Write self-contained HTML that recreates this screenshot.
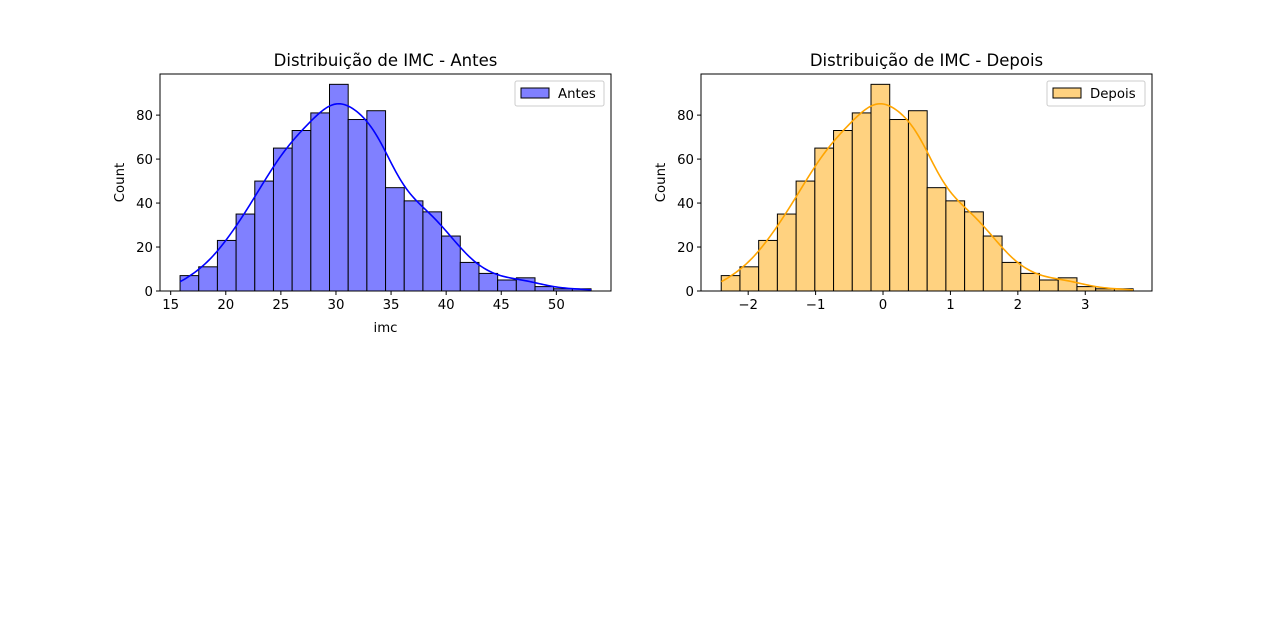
<!DOCTYPE html>
<html><head><meta charset="utf-8"><style>
body{margin:0;background:#fff;}
svg{display:block;font-family:"DejaVu Sans","Liberation Sans",sans-serif;}
</style></head><body>
<svg id="fig" width="1280" height="620" viewBox="0 0 1280 620"></svg>
<script>
const counts = [7,11,23,35,50,65,73,81,94,78,82,47,41,36,25,13,8,5,6,2,1,1];
const antesRange = [15.85, 53.15];
const depoisRange = [-2.40, 3.71];
const antesTicks = [15,20,25,30,35,40,45,50];
const depoisTicks = [-2,-1,0,1,2,3];
const yTicks = [0,20,40,60,80];

const NS='http://www.w3.org/2000/svg';
const svg=document.getElementById('fig');
function el(tag,attrs,parent){const e=document.createElementNS(NS,tag);for(const k in attrs)e.setAttribute(k,attrs[k]);(parent||svg).appendChild(e);return e;}

function panel(cfg){
  const g=el('g',{});
  
  
  const L=cfg.left,R=cfg.left+451,T=74,B=291;
  const yMax=98.7;
  const sx=v=>L+(v-cfg.xlim[0])/(cfg.xlim[1]-cfg.xlim[0])*(R-L);
  const sy=v=>B-v/yMax*(B-T);
  const n=counts.length, w=(cfg.range[1]-cfg.range[0])/n;
  counts.forEach((c,i)=>{
    const x0=sx(cfg.range[0]+i*w),x1=sx(cfg.range[0]+(i+1)*w);
    const r=el('rect',{x:x0,y:sy(c),width:x1-x0,height:B-sy(c),fill:cfg.fill,stroke:'#000','stroke-width':1},g);
    
    
  });
  const centers=counts.map((c,i)=>cfg.range[0]+(i+0.5)*w);
  const N=counts.reduce((a,b)=>a+b,0);
  let mean=0;centers.forEach((x,i)=>mean+=x*counts[i]);mean/=N;
  let v=0;centers.forEach((x,i)=>v+=counts[i]*(x-mean)**2);v/=N;
  const bw=Math.sqrt(v)*Math.pow(N,-0.2);
  let d='';
  for(let k=0;k<=200;k++){
    const x=cfg.range[0]+k/200*(cfg.range[1]-cfg.range[0]);
    let s=0;centers.forEach((c,i)=>s+=counts[i]*Math.exp(-0.5*((x-c)/bw)**2));
    const y=s/(bw*Math.sqrt(2*Math.PI))*w;
    d+=(k?'L':'M')+sx(x).toFixed(2)+','+sy(y).toFixed(2);
  }
  const p=el('path',{d:d,fill:'none',stroke:cfg.line,'stroke-width':1.6},g);
  
  
  el('rect',{x:L,y:T,width:R-L,height:B-T,fill:'none',stroke:'#000','stroke-width':1},g);
  cfg.xticks.forEach(t=>{
    el('line',{x1:sx(t),x2:sx(t),y1:B,y2:B+4,stroke:'#000'},g);
    const tx=el('text',{x:sx(t),y:B+18,'text-anchor':'middle','font-size':13.3,fill:'#000'},g);
    tx.textContent=t<0?'\u2212'+(-t):String(t);
    
    
  });
  yTicks.forEach(t=>{
    el('line',{x1:L-4,x2:L,y1:sy(t),y2:sy(t),stroke:'#000'},g);
    const tx=el('text',{x:L-7,y:sy(t)+5,'text-anchor':'end','font-size':13.3,fill:'#000'},g);
    tx.textContent=t;
    
    
  });
  const yl=el('text',{x:0,y:0,'text-anchor':'middle','font-size':13.3,transform:`translate(${L-36},${(T+B)/2}) rotate(-90)`},g);
  yl.textContent='Count';
  
  
  if(cfg.xlabel){
    const xl=el('text',{x:(L+R)/2,y:B+41,'text-anchor':'middle','font-size':13.3},g);
    xl.textContent=cfg.xlabel;
    
    
  }
  const tt=el('text',{x:(L+R)/2,y:66,'text-anchor':'middle','font-size':16.5},g);
  tt.textContent=cfg.title;
  
  
  const lg=el('g',{},g);
  
  
  el('rect',{x:R-7-cfg.lw,y:81,width:cfg.lw,height:25,rx:2,fill:'#fff',stroke:'#ccc'},lg);
  el('rect',{x:R-7-cfg.lw+6,y:88,width:28,height:10,fill:cfg.fill,stroke:'#000'},lg);
  const lt=el('text',{x:R-7-cfg.lw+43,y:98,'font-size':13.3},lg);
  lt.textContent=cfg.label;
}
panel({name:'antes-chart',left:160,xlim:[14.03,54.96],range:antesRange,xticks:antesTicks,fill:'#8080ff',line:'#0000ff',title:'Distribuição de IMC - Antes',xlabel:'imc',label:'Antes',lw:89});
panel({name:'depois-chart',left:701,xlim:[-2.70,3.99],range:depoisRange,xticks:depoisTicks,fill:'#ffd280',line:'#ffa500',title:'Distribuição de IMC - Depois',xlabel:'',label:'Depois',lw:98});
</script>
</body></html>
